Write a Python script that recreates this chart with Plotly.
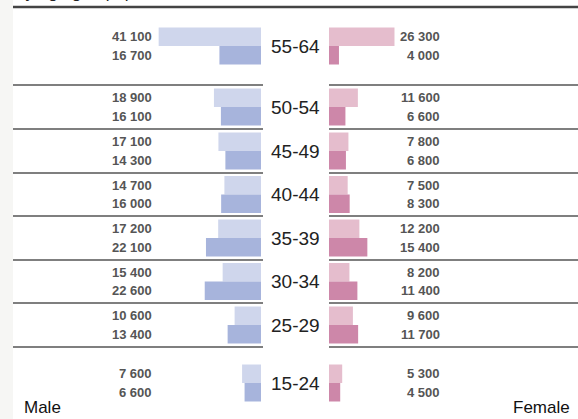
import plotly.graph_objects as go

# Age groups, top to bottom
ages = ['55-64', '50-54', '45-49', '40-44', '35-39', '30-34', '25-29', '15-24']

# Two periods per group: light (upper bar) and dark (lower bar)
male_light = [41100, 18900, 17100, 14700, 17200, 15400, 10600, 7600]
male_dark = [16700, 16100, 14300, 16000, 22100, 22600, 13400, 6600]
female_light = [26300, 11600, 7800, 7500, 12200, 8200, 9600, 5300]
female_dark = [4000, 6600, 6800, 8300, 15400, 11400, 11700, 4500]

# Layout (in pixels of the 578x419 canvas)
W, H = 578, 419
row_edges = [7, 85, 129, 173, 216, 260, 303, 347, 419]
centers = [(a + b) / 2 for a, b in zip(row_edges[:-1], row_edges[1:])]
bar_h = 18.5
px_per_unit = 2.49 / 1000
left_end, right_start = 261, 329

c_male_light = '#CFD6EC'
c_male_dark = '#A7B4DC'
c_fem_light = '#E5BDCD'
c_fem_dark = '#CD87A9'

font_fam = 'Liberation Sans, Arial, sans-serif'


def fmt(v):
    return f'{v:,}'.replace(',', ' ')


fig = go.Figure()

y_up = [c - bar_h / 2 for c in centers]
y_dn = [c + bar_h / 2 for c in centers]

fig.add_trace(go.Bar(x=male_light, y=y_up, orientation='h', width=bar_h,
                     marker=dict(color=c_male_light, line_width=0), xaxis='x', yaxis='y'))
fig.add_trace(go.Bar(x=male_dark, y=y_dn, orientation='h', width=bar_h,
                     marker=dict(color=c_male_dark, line_width=0), xaxis='x', yaxis='y'))
fig.add_trace(go.Bar(x=female_light, y=y_up, orientation='h', width=bar_h,
                     marker=dict(color=c_fem_light, line_width=0), xaxis='x2', yaxis='y'))
fig.add_trace(go.Bar(x=female_dark, y=y_dn, orientation='h', width=bar_h,
                     marker=dict(color=c_fem_dark, line_width=0), xaxis='x2', yaxis='y'))

annotations = []
for i, age in enumerate(ages):
    annotations.append(dict(x=295 / W, y=centers[i], xref='paper', yref='y', text=age,
                            showarrow=False, xanchor='center', yanchor='middle',
                            font=dict(family=font_fam, size=19, color='#222')))
    for yy, mv, fv in [(y_up[i], male_light[i], female_light[i]),
                       (y_dn[i], male_dark[i], female_dark[i])]:
        annotations.append(dict(x=154 / W, y=yy, xref='paper', yref='y', text='<b>' + fmt(mv) + '</b>',
                                showarrow=False, xanchor='right', yanchor='middle',
                                font=dict(family=font_fam, size=13, color='#555')))
        annotations.append(dict(x=442 / W, y=yy, xref='paper', yref='y', text='<b>' + fmt(fv) + '</b>',
                                showarrow=False, xanchor='right', yanchor='middle',
                                font=dict(family=font_fam, size=13, color='#555')))

annotations.append(dict(x=22 / W, y=407, xref='paper', yref='y', text='Male', showarrow=False,
                        xanchor='left', yanchor='middle', font=dict(family=font_fam, size=17, color='#111')))
annotations.append(dict(x=572 / W, y=407, xref='paper', yref='y', text='Female', showarrow=False,
                        xanchor='right', yanchor='middle', font=dict(family=font_fam, size=17, color='#111')))
# title, mostly cut off at the top edge
annotations.append(dict(x=14 / W, y=4, xref='paper', yref='y', text='by age group, persons', showarrow=False,
                        xanchor='left', yanchor='bottom', font=dict(family=font_fam, size=17, color='#222')))

shapes = [
    dict(type='rect', xref='paper', yref='paper', x0=0, x1=13 / W, y0=0, y1=1,
         fillcolor='#F6F6F4', line_width=0, layer='below'),
    dict(type='line', xref='paper', yref='y', x0=13 / W, x1=1, y0=7, y1=7,
         line=dict(color='#444', width=2.5)),
]
for e in row_edges[1:-1]:
    shapes.append(dict(type='line', xref='paper', yref='y', x0=13 / W, x1=263 / W, y0=e, y1=e,
                       line=dict(color='#555', width=1.3)))
    shapes.append(dict(type='line', xref='paper', yref='y', x0=right_start / W, x1=1, y0=e, y1=e,
                       line=dict(color='#555', width=1.3)))

fig.update_layout(
    width=W, height=H,
    margin=dict(l=0, r=0, t=0, b=0),
    paper_bgcolor='white', plot_bgcolor='rgba(0,0,0,0)',
    showlegend=False, barmode='overlay',
    xaxis=dict(domain=[0, left_end / W], range=[left_end / px_per_unit, 0],
               visible=False, fixedrange=True),
    xaxis2=dict(domain=[right_start / W, 1], range=[0, (W - right_start) / px_per_unit],
                visible=False, fixedrange=True, anchor='y'),
    yaxis=dict(domain=[0, 1], range=[H, 0], visible=False, fixedrange=True),
    annotations=annotations, shapes=shapes,
)

# drop the browser's default page margin so the figure sits at the window's corner
fig.write_html('out.html', config={'displayModeBar': False},
               post_script="document.body.style.margin='0';document.body.style.overflow='hidden';")
